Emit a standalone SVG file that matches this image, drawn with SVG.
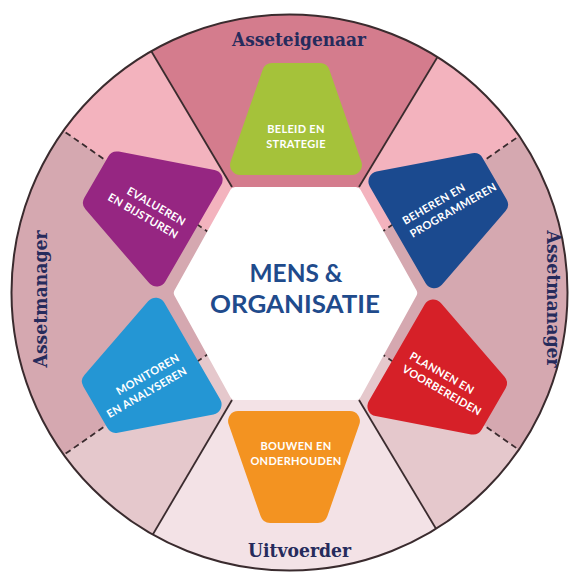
<svg xmlns="http://www.w3.org/2000/svg" width="569" height="574" viewBox="0 0 569 574">
<defs>
<clipPath id="disc"><circle cx="289.5" cy="292.5" r="278"/></clipPath>
<path id="tile" d="M272.1,63 L319.9,63 A10,10 0 0 1 329.34,69.7 L361.37,161.72 A10,10 0 0 1 351.93,175 L240.07,175 A10,10 0 0 1 230.63,161.72 L262.66,69.7 A10,10 0 0 1 272.1,63 Z"/>
</defs>
<style>
.lbl{font-family:"DejaVu Serif","Liberation Serif",serif;font-weight:bold;font-size:18px;fill:#262b5c;}
.tt{font-family:Lato,"Open Sans",sans-serif;font-weight:bold;font-size:11px;fill:#ffffff;letter-spacing:0.3px;}
.ct{font-family:Lato,"Open Sans",sans-serif;font-weight:bold;font-size:25px;fill:#1f4b8c;}
.solid{stroke:#3a2b2e;stroke-width:1.8;fill:none;}
.dash{stroke:#3a2b2e;stroke-width:1.8;stroke-dasharray:6 4;fill:none;}
</style>
<rect x="0" y="0" width="569" height="574" fill="#ffffff"/>
<g id="sectors" clip-path="url(#disc)">
<rect x="0" y="0" width="569" height="574" fill="#d5a8b0"/>
<polygon points="295,293 43,-131 551,-131" fill="#d47c8d"/>
<polygon points="295,293 551,-131 622.7,63.6" fill="#f3b3be"/>
<polygon points="295,293 622.7,522.4 551,721" fill="#e5c8cc"/>
<polygon points="295,293 551,721 43,721" fill="#f3e2e6"/>
<polygon points="295,293 43,721 -32.7,522.4" fill="#e5c8cc"/>
<polygon points="295,293 -32.7,63.6 43,-131" fill="#f3b3be"/>
</g>
<g id="connectors" clip-path="url(#disc)">
<line class="solid" x1="232" y1="187" x2="43" y2="-131"/>
<line class="solid" x1="359" y1="187" x2="551" y2="-131"/>
<line class="solid" x1="359" y1="400" x2="551" y2="721"/>
<line class="solid" x1="232" y1="400" x2="43" y2="721"/>
<line class="dash" x1="622.7" y1="63.6" x2="382.6" y2="231.6"/>
<line class="dash" x1="-32.7" y1="63.6" x2="207.4" y2="231.6"/>
<line class="dash" x1="-32.7" y1="522.4" x2="207.4" y2="354.4"/>
<line class="dash" x1="622.7" y1="522.4" x2="382.6" y2="354.4"/>
</g>
<circle cx="289.5" cy="292.5" r="278" fill="none" stroke="#3a2b2e" stroke-width="2"/>
<g id="center">
<polygon points="178.8,293 235,192 356,192 412.2,293 356,395 235,395" fill="#ffffff" stroke="#ffffff" stroke-width="10" stroke-linejoin="round"/>
<text class="ct" x="296" y="281.7" text-anchor="middle" textLength="93" lengthAdjust="spacingAndGlyphs">MENS &amp;</text>
<text class="ct" x="295" y="312.7" text-anchor="middle" textLength="170" lengthAdjust="spacingAndGlyphs">ORGANISATIE</text>
</g>
<g id="beleid">
<use href="#tile" fill="#a5c23a"/>
<text class="tt" x="296" y="133.3" text-anchor="middle">BELEID EN</text>
<text class="tt" x="296" y="148.3" text-anchor="middle">STRATEGIE</text>
</g>
<g id="beheren">
<use href="#tile" fill="#1b4a8f" transform="rotate(60 295 293)"/>
<g transform="translate(441.5,208) rotate(-30)">
<text class="tt" x="-40" y="-3.4">BEHEREN EN</text>
<text class="tt" x="-40" y="11.6">PROGRAMMEREN</text>
</g>
</g>
<g id="plannen">
<use href="#tile" fill="#d62028" transform="rotate(120 295 293)"/>
<g transform="translate(440.8,380.8) rotate(30)">
<text class="tt" x="-39" y="-3.4">PLANNEN EN</text>
<text class="tt" x="-39" y="11.6">VOORBEREIDEN</text>
</g>
</g>
<g id="bouwen">
<use href="#tile" fill="#f39321" transform="rotate(180 295 293)"/>
<text class="tt" x="296" y="449.6" text-anchor="middle">BOUWEN EN</text>
<text class="tt" x="296" y="464.6" text-anchor="middle">ONDERHOUDEN</text>
</g>
<g id="monitoren">
<use href="#tile" fill="#2496d4" transform="rotate(240 295 293)"/>
<g transform="translate(148.3,382.5) rotate(-30)">
<text class="tt" x="39" y="-3.4" text-anchor="end">MONITOREN</text>
<text class="tt" x="39" y="11.6" text-anchor="end">EN ANALYSEREN</text>
</g>
</g>
<g id="evalueren">
<use href="#tile" fill="#962682" transform="rotate(-60 295 293)"/>
<g transform="translate(150,211) rotate(30)">
<text class="tt" x="36" y="-3.4" text-anchor="end">EVALUEREN</text>
<text class="tt" x="36" y="11.6" text-anchor="end">EN BIJSTUREN</text>
</g>
</g>
<g id="labels">
<text class="lbl" x="299" y="45.5" text-anchor="middle" textLength="134" lengthAdjust="spacingAndGlyphs">Asseteigenaar</text>
<text class="lbl" x="299.5" y="556.5" text-anchor="middle" textLength="103" lengthAdjust="spacingAndGlyphs">Uitvoerder</text>
<text class="lbl" transform="translate(46.5,299) rotate(-90)" text-anchor="middle" textLength="137" lengthAdjust="spacingAndGlyphs">Assetmanager</text>
<text class="lbl" transform="translate(547,299) rotate(90)" text-anchor="middle" textLength="137" lengthAdjust="spacingAndGlyphs">Assetmanager</text>
</g>
</svg>
